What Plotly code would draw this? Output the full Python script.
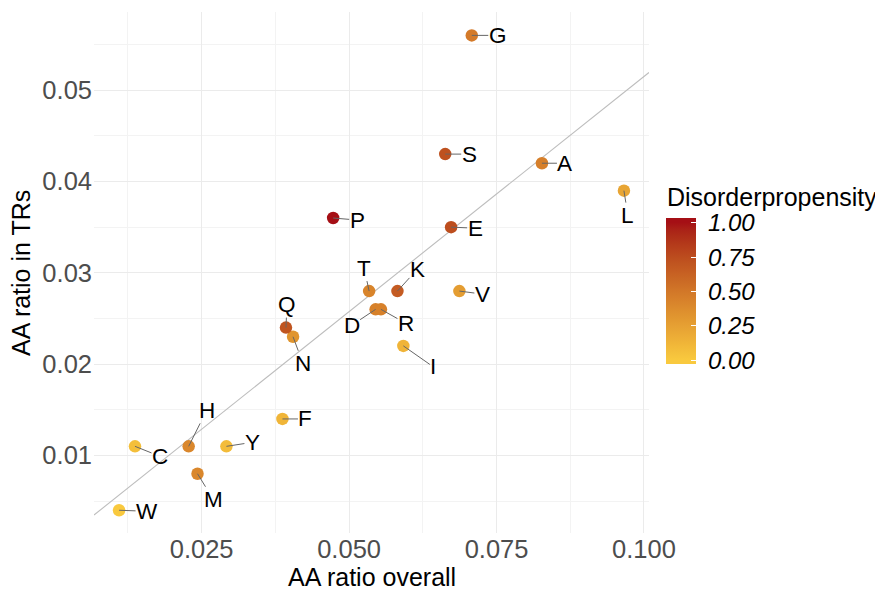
import numpy as np
import plotly.graph_objects as go

# ---------------- data ----------------
aa = ["G", "A", "S", "E", "L", "V", "P", "T", "K", "D", "R", "I", "N", "Q", "F", "H", "C", "Y", "M", "W"]
ratio_overall = [0.0708, 0.0827, 0.0663, 0.0673, 0.0966, 0.0687, 0.0473, 0.0534, 0.0582, 0.0545,
                 0.0554, 0.0592, 0.0405, 0.0393, 0.0387, 0.0228, 0.0137, 0.0292, 0.0243, 0.0110]
ratio_trs = [0.056, 0.042, 0.043, 0.035, 0.039, 0.028, 0.036, 0.028, 0.028, 0.026,
             0.026, 0.022, 0.023, 0.024, 0.014, 0.011, 0.011, 0.011, 0.008, 0.004]
disorder = [0.48, 0.45, 0.72, 0.74, 0.22, 0.27, 1.00, 0.42, 0.66, 0.44,
            0.44, 0.13, 0.32, 0.70, 0.12, 0.40, 0.06, 0.08, 0.40, 0.00]
# label offsets (pixels, from point to label centre) as placed by the repel layout
label_dx = [26, 23, 24, 24, 4, 23, 24, -5, 20, -24, 25, 30, 10, 1, 23, 18, 25, 26, 16, 28]
label_dy = [0, 0, 0, 1, 25, 3, 2, -23, -22, 16, 14, 21, 27, -23, 0, -36, 10, -4, 26, 1]

x_ticks = [0.025, 0.050, 0.075, 0.100]
y_ticks = [0.01, 0.02, 0.03, 0.04, 0.05]
cbar_ticks = [0.0, 0.25, 0.5, 0.75, 1.0]
cbar_labels = ["0.00", "0.25", "0.50", "0.75", "1.00"]

x_range = [0.00675, 0.10085]
y_range = [0.00151, 0.05856]
c_range = [-0.029, 1.032]

LOW, HIGH = "#F9C93E", "#A50F15"

# ---------------- colour helpers (Lab interpolation, like ggplot) ----------------
def hex2rgb(h):
    h = h.lstrip("#")
    return np.array([int(h[i:i + 2], 16) / 255 for i in (0, 2, 4)])

def srgb2lin(c):
    return np.where(c <= 0.04045, c / 12.92, ((c + 0.055) / 1.055) ** 2.4)

def lin2srgb(c):
    c = np.clip(c, 0, 1)
    return np.where(c <= 0.0031308, 12.92 * c, 1.055 * c ** (1 / 2.4) - 0.055)

M = np.array([[0.4124, 0.3576, 0.1805], [0.2126, 0.7152, 0.0722], [0.0193, 0.1192, 0.9505]])
Minv = np.linalg.inv(M)
WP = np.array([0.95047, 1.0, 1.08883])

def f(t):
    return np.where(t > (6 / 29) ** 3, np.cbrt(t), t / (3 * (6 / 29) ** 2) + 4 / 29)

def finv(t):
    return np.where(t > 6 / 29, t ** 3, 3 * (6 / 29) ** 2 * (t - 4 / 29))

def rgb2lab(rgb):
    xyz = M @ srgb2lin(rgb) / WP
    fx, fy, fz = f(xyz)
    return np.array([116 * fy - 16, 500 * (fx - fy), 200 * (fy - fz)])

def lab2hex(lab):
    L, a, b = lab
    fy = (L + 16) / 116
    xyz = np.array([finv(fy + a / 500), finv(fy), finv(fy - b / 200)]) * WP
    rgb = lin2srgb(Minv @ xyz)
    return "#%02x%02x%02x" % tuple(int(round(v * 255)) for v in rgb)

lab_lo, lab_hi = rgb2lab(hex2rgb(LOW)), rgb2lab(hex2rgb(HIGH))
span = c_range[1] - c_range[0]
colorscale = [[0.0, LOW]]
for t in np.linspace(0, 1, 21):
    pos = (t - c_range[0]) / span
    colorscale.append([float(pos), lab2hex(lab_lo + (lab_hi - lab_lo) * t)])
colorscale.append([1.0, HIGH])

# ---------------- figure ----------------
# page offset: the html body adds an 8px margin, so the figure is 8px smaller
OFF = 8
W, H = 883 - OFF, 590 - OFF
PL, PR, PT, PB = 94, 649.3, 11.7, 533.3          # panel edges in page pixels
pw, ph = PR - PL, PB - PT

def px(x):
    return (x - PL) / pw

def py(y):
    return (PB - y) / ph

FONT = "Liberation Sans, Arial, sans-serif"
fig = go.Figure()

# trend line through the origin (ratio of totals), across the full panel
slope = sum(ratio_trs) / sum(ratio_overall)
fig.add_trace(go.Scatter(
    x=x_range, y=[slope * v for v in x_range], mode="lines",
    line=dict(color="#BDBDBD", width=1.1), hoverinfo="skip", showlegend=False))

NB = "\u00a0"
fig.add_trace(go.Scatter(
    x=ratio_overall, y=ratio_trs, mode="markers", text=aa, showlegend=False,
    marker=dict(size=12.5, color=disorder, colorscale=colorscale,
                cmin=c_range[0], cmax=c_range[1], line=dict(width=0),
                colorbar=dict(
                    thickness=30, thicknessmode="pixels",
                    len=146, lenmode="pixels",
                    x=px(666), xanchor="left", xpad=0,
                    y=py(218.3), yanchor="top", ypad=0,
                    outlinewidth=0,
                    tickvals=cbar_ticks, ticktext=[NB + t for t in cbar_labels],
                    ticks="inside", ticklen=5, tickcolor="white", tickwidth=1,
                    tickfont=dict(family=FONT, size=24, color="black", style="italic"),
                ))))

for name, xv, yv, dx, dy in zip(aa, ratio_overall, ratio_trs, label_dx, label_dy):
    fig.add_annotation(
        x=xv, y=yv, text=name, showarrow=True, ax=dx, ay=dy,
        axref="pixel", ayref="pixel", arrowhead=0, arrowwidth=1,
        arrowcolor="#666666", standoff=0, startstandoff=0,
        font=dict(family=FONT, size=22.5, color="black"), borderpad=0)

# axis titles and legend title
fig.add_annotation(text="AA ratio overall", xref="paper", yref="paper", x=px(371.7), y=py(577),
                   xanchor="center", yanchor="middle", showarrow=False,
                   font=dict(family=FONT, size=25, color="black"))
fig.add_annotation(text="AA ratio in TRs", xref="paper", yref="paper", x=px(21), y=py(273),
                   xanchor="center", yanchor="middle", textangle=-90, showarrow=False,
                   font=dict(family=FONT, size=25, color="black"))
fig.add_annotation(text="Disorderpropensity", xref="paper", yref="paper",
                   x=px(665), y=py(196.5),
                   xanchor="left", yanchor="middle", showarrow=False,
                   font=dict(family=FONT, size=25, color="black"))

grid = "#EBEBEB"
fig.update_layout(
    width=W, height=H,
    margin=dict(l=PL - OFF, r=W - (PR - OFF), t=PT - OFF, b=H - (PB - OFF)),
    paper_bgcolor="white", plot_bgcolor="white",
    font=dict(family=FONT),
    xaxis=dict(range=x_range, tickvals=x_ticks, tickformat=".3f", showgrid=True,
               gridcolor=grid, gridwidth=1.2, zeroline=False, showline=False, ticks="",
               automargin=False, ticklabelstandoff=-2,
               tickfont=dict(family=FONT, size=25.5, color="#4D4D4D"),
               minor=dict(tickvals=[0.0125, 0.0375, 0.0625, 0.0875], showgrid=True,
                          gridcolor="#F3F3F3", gridwidth=1)),
    yaxis=dict(range=y_range, tickvals=y_ticks, tickformat=".2f", showgrid=True,
               gridcolor=grid, gridwidth=1.2, zeroline=False, showline=False, ticks="",
               automargin=False, ticklabelstandoff=1,
               tickfont=dict(family=FONT, size=25.5, color="#4D4D4D"),
               minor=dict(tickvals=[0.005, 0.015, 0.025, 0.035, 0.045, 0.055], showgrid=True,
                          gridcolor="#F3F3F3", gridwidth=1)),
)

fig.write_html("out.html")
